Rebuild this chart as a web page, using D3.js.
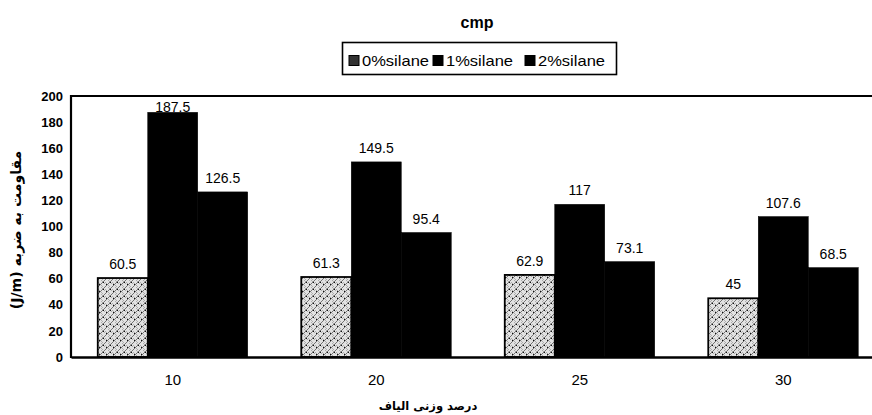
<!DOCTYPE html>
<html><head><meta charset="utf-8">
<script src="https://cdn.jsdelivr.net/npm/d3@7"></script>
<style>body{margin:0;background:#fff}</style>
</head><body>
<svg id="c" width="872" height="415"></svg>
<script>
const categories = ["10","20","25","30"];
const seriesNames = ["0%silane","1%silane","2%silane"];
const s0 = [60.5, 61.3, 62.9, 45];
const s1 = [187.5, 149.5, 117, 107.6];
const s2 = [126.5, 95.4, 73.1, 68.5];
const yTicks = [0,20,40,60,80,100,120,140,160,180,200];
const series = [s0, s1, s2];

(function(){
const svg = d3.select("#c");
const pLeft = 71, pTop = 96, pBottom = 357, step = 203.5;
const pRight = pLeft + step * categories.length;
const FONT = "Liberation Sans, Arial, sans-serif";
const NARROW = "Liberation Sans Narrow, Liberation Sans, Arial, sans-serif";

const defs = svg.append("defs");
const pat = defs.append("pattern").attr("id","stip").attr("patternUnits","userSpaceOnUse")
  .attr("width",7).attr("height",7);
pat.append("rect").attr("width",7).attr("height",7).attr("fill","#e2e2e2");
pat.append("path").attr("d","M0,7 L7,0 M-1,1 L1,-1 M6,8 L8,6").attr("stroke","#444").attr("stroke-width",0.7);
pat.append("path").attr("d","M0,2 L5,7 M3,0 L7,4").attr("stroke","#777").attr("stroke-width",0.5);
pat.append("rect").attr("x",1).attr("y",4).attr("width",1).attr("height",1).attr("fill","#111");
pat.append("rect").attr("x",5).attr("y",2).attr("width",1).attr("height",1).attr("fill","#111");
const fills = ["url(#stip)","#000","#000"];

const x0 = d3.scaleBand().domain(categories).range([pLeft, pRight]).paddingInner(0.263).paddingOuter(0.1315);
const x1 = d3.scaleBand().domain(d3.range(3)).range([0, x0.bandwidth()]);
const y = d3.scaleLinear().domain([0,200]).range([pBottom, pTop]);

svg.append("text").attr("x",477).attr("y",28).attr("text-anchor","middle")
  .attr("font-family",FONT).attr("font-weight","bold").attr("font-size",16).text("cmp");

// legend
const lg = svg.append("g");
lg.append("rect").attr("x",342.5).attr("y",42.5).attr("width",274).attr("height",32)
  .attr("fill","#fff").attr("stroke","#000").attr("stroke-width",1.6);
const legSw = [349, 433, 525];
seriesNames.forEach((n,i)=>{
  lg.append("rect").attr("x",legSw[i]).attr("y",55.5).attr("width",10).attr("height",10)
    .attr("fill", i===0 ? "#333" : "#000").attr("stroke","#000");
  lg.append("text").attr("x",legSw[i]+13).attr("y",65.5).attr("font-family",FONT)
    .attr("font-size",15).attr("textLength",67).attr("lengthAdjust","spacingAndGlyphs").text(n);
});

// bars
const g = svg.append("g");
categories.forEach((c,ci)=>{
  series.forEach((s,si)=>{
    const bx = x0(c) + x1(si), bw = x1.bandwidth();
    g.append("rect").attr("x",bx).attr("y",y(s[ci])).attr("width",bw).attr("height",y(0)-y(s[ci]))
      .attr("fill",fills[si]).attr("stroke","#000").attr("stroke-width", si===0?1.8:0.5);
    const ly = Math.max(y(s[ci]) - 9, pTop + 16);
    g.append("text").attr("x",bx + bw/2).attr("y",ly).attr("text-anchor","middle")
      .attr("font-family",FONT).attr("font-size",14).text(String(s[ci]));
  });
});

svg.append("line").attr("x1",pLeft).attr("x2",pRight).attr("y1",pTop).attr("y2",pTop).attr("stroke","#000").attr("stroke-width",2);
svg.append("line").attr("x1",pLeft).attr("x2",pLeft).attr("y1",pTop-1).attr("y2",pBottom+1).attr("stroke","#000").attr("stroke-width",2.2);

const ya = svg.append("g").attr("transform",`translate(${pLeft},0)`)
  .call(d3.axisLeft(y).tickValues(yTicks).tickSize(0).tickPadding(8));
ya.select(".domain").remove();
ya.selectAll("text").attr("font-family",NARROW).attr("font-weight","bold").attr("font-size",13).attr("fill","#000");

const xa = svg.append("g").attr("transform",`translate(0,${pBottom})`)
  .call(d3.axisBottom(x0).tickSize(0).tickPadding(17));
xa.select(".domain").attr("stroke","#000").attr("stroke-width",2.6);
xa.selectAll("text").attr("font-family",NARROW).attr("font-size",15).attr("fill","#000");

svg.append("text").attr("transform","translate(21,230) rotate(-90)").attr("text-anchor","middle")
  .attr("font-family","DejaVu Sans").attr("font-weight","bold").attr("font-size",14)
  .text("(J/m) مقاومت به ضربه");
svg.append("text").attr("x",428).attr("y",410).attr("text-anchor","middle")
  .attr("font-family","DejaVu Sans").attr("font-weight","bold").attr("font-size",11.5)
  .text("درصد وزنی الیاف");
})();
</script>
</body></html>
